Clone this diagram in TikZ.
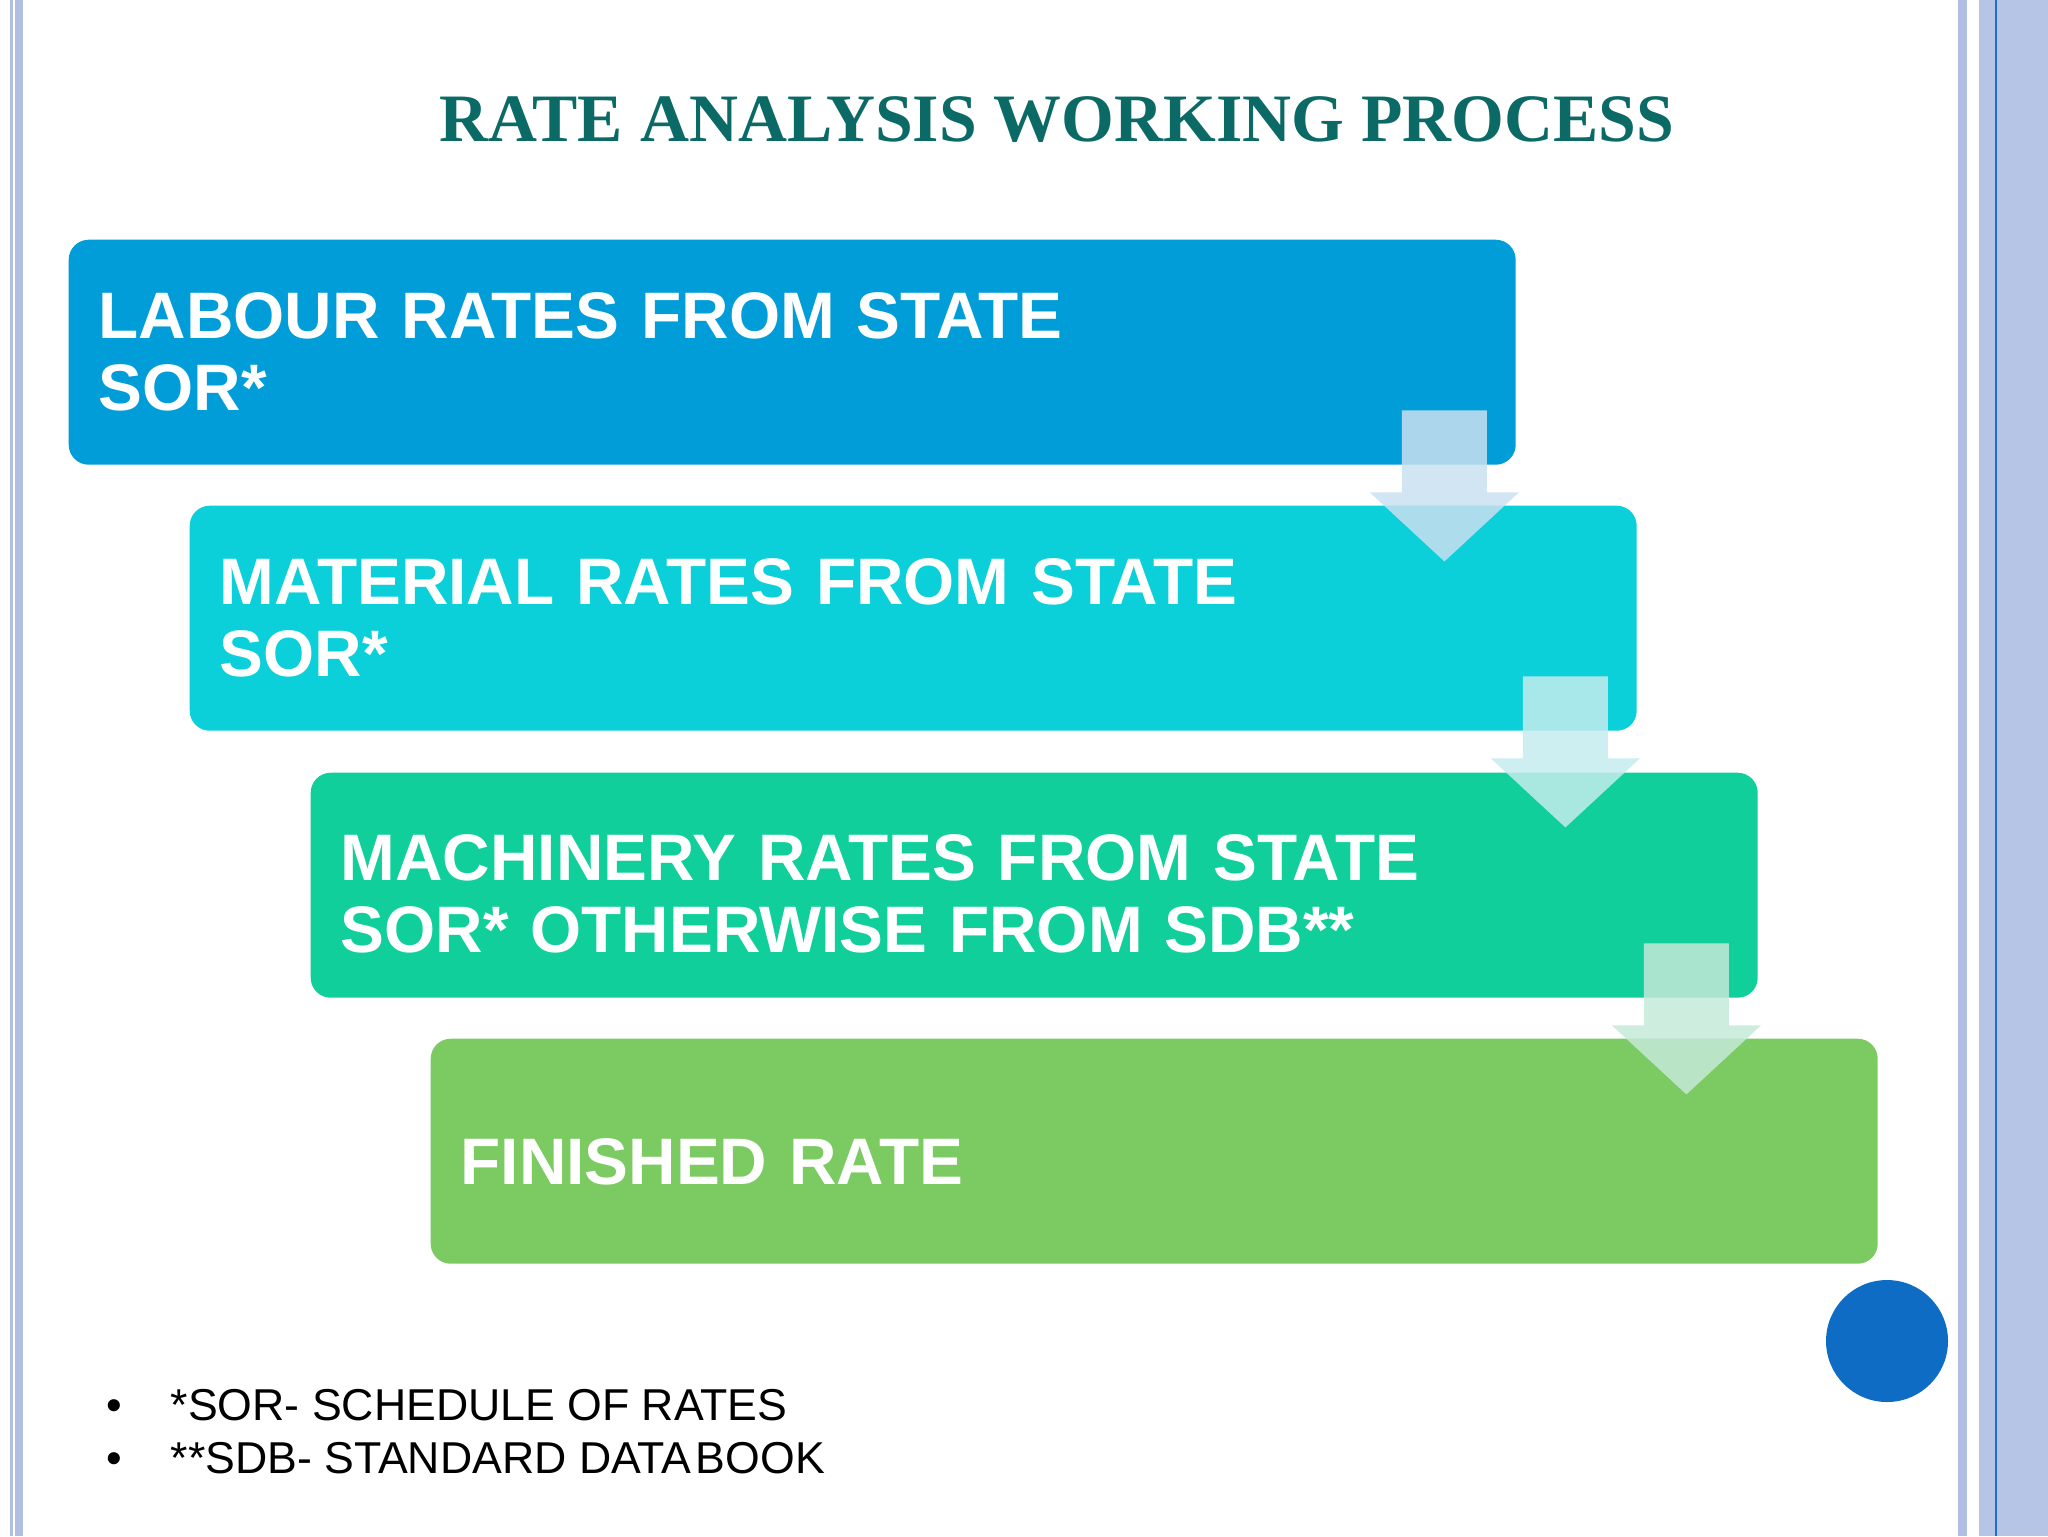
\documentclass[tikz,border=0pt]{standalone}
\usepackage{fontspec}
\setmainfont{Liberation Sans}
\newfontfamily\titlefont{Liberation Serif}
\usetikzlibrary{calc}
\definecolor{labourcol}{RGB}{0,157,217}
\definecolor{materialcol}{RGB}{11,208,217}
\definecolor{machinecol}{RGB}{16,207,155}
\definecolor{finishcol}{RGB}{124,202,98}
\definecolor{arrowa}{RGB}{202,224,240}
\definecolor{arrowb}{RGB}{196,236,238}
\definecolor{arrowc}{RGB}{196,234,216}
\definecolor{titlecol}{RGB}{11,106,102}
\definecolor{framecol}{RGB}{176,190,226}
\definecolor{bandcol}{RGB}{182,196,230}
\definecolor{edgeblue}{RGB}{30,110,210}
\definecolor{dotblue}{RGB}{14,108,196}
\tikzset{
  stepbox/.style={rectangle, rounded corners=2mm, anchor=north west,
    minimum height=22.5mm, text width=138.7mm, inner xsep=3mm, align=left,
    text=white, font=\fontsize{18.7}{20.5}\selectfont\bfseries},
  flowarrow/.style={fill opacity=0.85, draw=none},
  notetext/.style={anchor=base west, inner sep=0pt, font=\fontsize{12.7}{15}\selectfont}
}
\begin{document}
\begin{tikzpicture}[x=0.1mm, y=-0.1mm]
  \useasboundingbox (0,0) rectangle (2048,1536);
  % slide frame
  \fill[framecol] (10,0) rectangle (13,1536);
  \fill[framecol] (15,0) rectangle (23,1536);
  \fill[framecol] (1958,0) rectangle (1967,1536);
  \fill[bandcol] (1979,0) rectangle (2048,1536);
  \fill[edgeblue] (1995,0) rectangle (1997,1536);

  \node[anchor=base, text=titlecol, font=\titlefont\bfseries\fontsize{19.3}{22}\selectfont]
    (title) at (1057,141) {RATE ANALYSIS WORKING PROCESS};

  \node[stepbox, fill=labourcol] (labour) at (68,239)
    {LABOUR RATES FROM STATE\\SOR*};
  \node[stepbox, fill=materialcol] (material) at (189,505)
    {MATERIAL RATES FROM STATE\\SOR*};
  \node[stepbox, fill=machinecol] (machine) at (310,772)
    {\rule{0pt}{6.3mm}MACHINERY RATES FROM STATE\\SOR* OTHERWISE FROM SDB**};
  \node[stepbox, fill=finishcol, text height=6.7mm, text depth=0pt] (finish) at (430,1038)
    {FINISHED RATE};

  \begin{scope}[flowarrow]
    \fill[arrowa] ($(labour.south east)+(-114.5,-55)$) -- ++(85,0) -- ++(0,82)
      -- ++(32,0) -- ($(labour.south east)+(-72,96)$) -- ++(-74.5,-69) -- ++(32,0) -- cycle;
    \fill[arrowb] ($(material.south east)+(-114.5,-55)$) -- ++(85,0) -- ++(0,82)
      -- ++(32,0) -- ($(material.south east)+(-72,96)$) -- ++(-74.5,-69) -- ++(32,0) -- cycle;
    \fill[arrowc] ($(machine.south east)+(-114.5,-55)$) -- ++(85,0) -- ++(0,82)
      -- ++(32,0) -- ($(machine.south east)+(-72,96)$) -- ++(-74.5,-69) -- ++(32,0) -- cycle;
  \end{scope}

  \node[circle, fill=dotblue, inner sep=0pt, minimum size=12.2mm] (dot) at (1887,1341) {};

  \node[notetext] (bulleta) at (106,1420) {\textbullet};
  \node[notetext] (bulletb) at (106,1473) {\textbullet};
  \node[notetext] (sornote) at (170,1420) {*SOR- SCHEDULE OF RATES};
  \node[notetext] (sdbnote) at (170,1473) {**SDB- STANDARD DATA\kern0.1em BOOK};
\end{tikzpicture}
\end{document}
